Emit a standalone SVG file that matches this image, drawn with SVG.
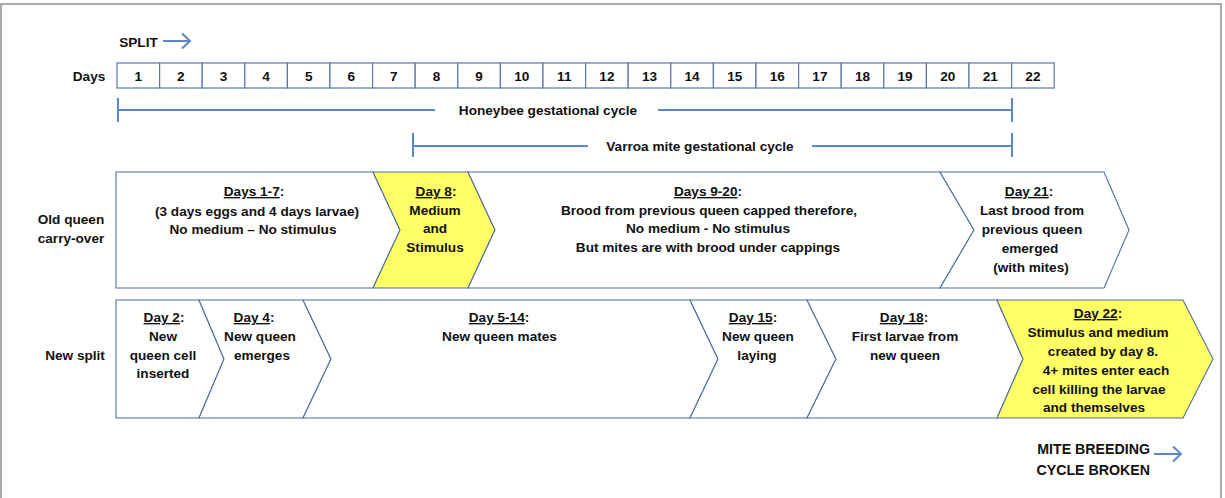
<svg xmlns="http://www.w3.org/2000/svg" width="1225" height="498" viewBox="0 0 1225 498">
<style>
text{font-family:"Liberation Sans",Arial,sans-serif;font-weight:bold;font-size:13.6px;fill:#111;text-anchor:middle}
.cell{fill:#fff;stroke:#5a78a8;stroke-width:1.2}
.shape{fill:#fff;stroke:#4f6f9f;stroke-width:1.1}
.hl{fill:#ffff66}
.bar{stroke:#5b88c4;stroke-width:2;fill:none}
.arr{stroke:#5b88c4;stroke-width:2;fill:none}
.u{text-decoration:underline}
</style>
<rect x="1" y="4" width="1220" height="500" fill="#fff" stroke="#909090" stroke-width="1.5"/>

<g id="split-label">
<text x="138.5" y="47">SPLIT</text>
<path class="arr" d="M163,41 H190 M182,33.5 L190,41 L182,48.5"/>
</g>

<g id="days-row">
<text x="89" y="81">Days</text>
<g id="day-cells">
<rect class="cell" x="117" y="63" width="42.6" height="25"/>
<rect class="cell" x="159.6" y="63" width="42.6" height="25"/>
<rect class="cell" x="202.2" y="63" width="42.6" height="25"/>
<rect class="cell" x="244.8" y="63" width="42.6" height="25"/>
<rect class="cell" x="287.4" y="63" width="42.6" height="25"/>
<rect class="cell" x="330" y="63" width="42.6" height="25"/>
<rect class="cell" x="372.6" y="63" width="42.6" height="25"/>
<rect class="cell" x="415.2" y="63" width="42.6" height="25"/>
<rect class="cell" x="457.8" y="63" width="42.6" height="25"/>
<rect class="cell" x="500.4" y="63" width="42.6" height="25"/>
<rect class="cell" x="543" y="63" width="42.6" height="25"/>
<rect class="cell" x="585.6" y="63" width="42.6" height="25"/>
<rect class="cell" x="628.2" y="63" width="42.6" height="25"/>
<rect class="cell" x="670.8" y="63" width="42.6" height="25"/>
<rect class="cell" x="713.4" y="63" width="42.6" height="25"/>
<rect class="cell" x="756" y="63" width="42.6" height="25"/>
<rect class="cell" x="798.6" y="63" width="42.6" height="25"/>
<rect class="cell" x="841.2" y="63" width="42.6" height="25"/>
<rect class="cell" x="883.8" y="63" width="42.6" height="25"/>
<rect class="cell" x="926.4" y="63" width="42.6" height="25"/>
<rect class="cell" x="969" y="63" width="42.6" height="25"/>
<rect class="cell" x="1011.6" y="63" width="42.6" height="25"/>
</g>
<g id="day-numbers">
<text x="138.3" y="81">1</text>
<text x="180.9" y="81">2</text>
<text x="223.5" y="81">3</text>
<text x="266.1" y="81">4</text>
<text x="308.7" y="81">5</text>
<text x="351.3" y="81">6</text>
<text x="393.9" y="81">7</text>
<text x="436.5" y="81">8</text>
<text x="479.1" y="81">9</text>
<text x="521.7" y="81">10</text>
<text x="564.3" y="81">11</text>
<text x="606.9" y="81">12</text>
<text x="649.5" y="81">13</text>
<text x="692.1" y="81">14</text>
<text x="734.7" y="81">15</text>
<text x="777.3" y="81">16</text>
<text x="819.9" y="81">17</text>
<text x="862.5" y="81">18</text>
<text x="905.1" y="81">19</text>
<text x="947.7" y="81">20</text>
<text x="990.3" y="81">21</text>
<text x="1032.9" y="81">22</text>
</g>
</g>

<g id="connectors">
<g id="honeybee-cycle">
<path class="bar" d="M118,98 V122 M118,110 H435 M658,110 H1012 M1012,98 V122"/>
<text x="548" y="115">Honeybee gestational cycle</text>
</g>
<g id="varroa-cycle">
<path class="bar" d="M413,133 V157 M413,146 H588 M812,146 H1012 M1012,133 V157"/>
<text x="700" y="151">Varroa mite gestational cycle</text>
</g>
</g>

<g id="row-labels">
<text x="71" y="224">Old queen</text>
<text x="71" y="243">carry-over</text>
<text x="75" y="360">New split</text>
</g>

<g id="old-days1-7">
<path class="shape" d="M116,172 H373 L400,230 L373,288 H116 Z"/>
<text x="254" y="196"><tspan class="u">Days 1-7</tspan>:</text>
<text x="257" y="215.5">(3 days eggs and 4 days larvae)</text>
<text x="253" y="234">No medium – No stimulus</text>
</g>
<g id="old-day8">
<path class="shape hl" d="M373,172 H468 L495,230 L468,288 H373 L400,230 Z"/>
<text x="436" y="196"><tspan class="u">Day 8</tspan>:</text>
<text x="435" y="215">Medium</text>
<text x="435" y="233">and</text>
<text x="435" y="252">Stimulus</text>
</g>
<g id="old-days9-20">
<path class="shape" d="M468,172 H940 L974,230 L940,288 H468 L495,230 Z"/>
<text x="708" y="196"><tspan class="u">Days 9-20</tspan>:</text>
<text x="709" y="215">Brood from previous queen capped therefore,</text>
<text x="708" y="233">No medium - No stimulus</text>
<text x="708" y="252">But mites are with brood under cappings</text>
</g>
<g id="old-day21">
<path class="shape" d="M940,172 H1104 L1129,230 L1104,288 H940 L974,230 Z"/>
<text x="1029" y="196"><tspan class="u">Day 21</tspan>:</text>
<text x="1032" y="215">Last brood from</text>
<text x="1032" y="234">previous queen</text>
<text x="1030" y="253">emerged</text>
<text x="1031" y="272">(with mites)</text>
</g>

<g id="new-day2">
<path class="shape" d="M116,300 H199 L224,359 L199,418 H116 Z"/>
<text x="164" y="322"><tspan class="u">Day 2</tspan>:</text>
<text x="163" y="341">New</text>
<text x="163" y="359.5">queen cell</text>
<text x="163" y="378">inserted</text>
</g>
<g id="new-day4">
<path class="shape" d="M199,300 H303 L331,359 L303,418 H199 L224,359 Z"/>
<text x="254" y="322"><tspan class="u">Day 4</tspan>:</text>
<text x="260" y="341">New queen</text>
<text x="262" y="359.5">emerges</text>
</g>
<g id="new-day5-14">
<path class="shape" d="M303,300 H690 L718,359 L690,418 H303 L331,359 Z"/>
<text x="499" y="322"><tspan class="u">Day 5-14</tspan>:</text>
<text x="499.5" y="341">New queen mates</text>
</g>
<g id="new-day15">
<path class="shape" d="M690,300 H807 L836,359 L807,418 H690 L718,359 Z"/>
<text x="753" y="322"><tspan class="u">Day 15</tspan>:</text>
<text x="758" y="341">New queen</text>
<text x="757" y="359.5">laying</text>
</g>
<g id="new-day18">
<path class="shape" d="M807,300 H997 L1023,359 L997,418 H807 L836,359 Z"/>
<text x="904" y="322"><tspan class="u">Day 18</tspan>:</text>
<text x="905" y="341">First larvae from</text>
<text x="905" y="359.5">new queen</text>
</g>
<g id="new-day22">
<path class="shape hl" d="M997,300 H1183 L1213,359 L1183,418 H997 L1023,359 Z"/>
<text x="1098" y="318"><tspan class="u">Day 22</tspan>:</text>
<text x="1098" y="337">Stimulus and medium</text>
<text x="1103" y="355.5">created by day 8.</text>
<text x="1106" y="375">4+ mites enter each</text>
<text x="1099" y="393.5">cell killing the larvae</text>
<text x="1094" y="412">and themselves</text>
</g>

<g id="mite-broken">
<text x="1150" y="454" style="text-anchor:end;font-size:14.2px">MITE BREEDING</text>
<text x="1150" y="475" style="text-anchor:end;font-size:14.2px">CYCLE BROKEN</text>
<path class="arr" d="M1154,454 H1181 M1173,446.5 L1181,454 L1173,461.5"/>
</g>
</svg>
